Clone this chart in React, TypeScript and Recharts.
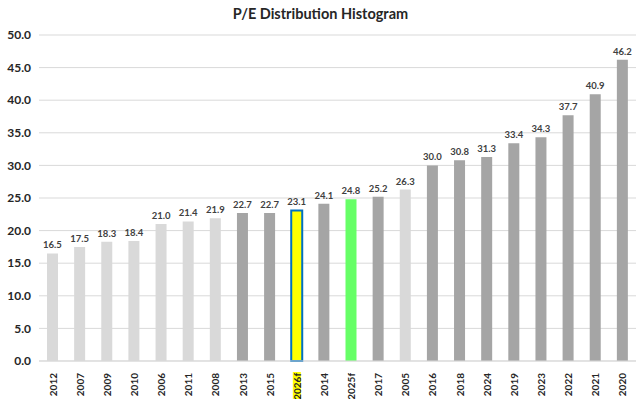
import { BarChart, Bar, XAxis, YAxis, CartesianGrid, Cell, LabelList } from "recharts";

const years = [
  "2012", "2007", "2009", "2010", "2006", "2011", "2008", "2013", "2015", "2026f", "2014",
  "2025f", "2017", "2005", "2016", "2018", "2024", "2019", "2023", "2022", "2021", "2020",
];
const peValues = [
  16.5, 17.5, 18.3, 18.4, 21.0, 21.4, 21.9, 22.7, 22.7, 23.1, 24.1,
  24.8, 25.2, 26.3, 30.0, 30.8, 31.3, 33.4, 34.3, 37.7, 40.9, 46.2,
];
// years shown in the lighter shade
const lightYears = ["2012", "2007", "2009", "2010", "2006", "2011", "2008", "2005"];
const currentYear = "2026f";
const nextYear = "2025f";
const yTicks = [0, 5, 10, 15, 20, 25, 30, 35, 40, 45, 50];

const data = years.map((year, i) => ({ year, pe: peValues[i] }));

const FONT = "Lato, 'Open Sans', sans-serif";

function fillFor(year: string) {
  if (year === currentYear) return "#FFFF00";
  if (year === nextYear) return "#66FF66";
  if (lightYears.includes(year)) return "#D9D9D9";
  return "#A5A5A5";
}

function YearTick(props: any) {
  const { x, y, payload } = props;
  const hl = payload.value === currentYear;
  return (
    <g transform={`translate(${x},${y + 4}) rotate(-90)`}>
      {hl && <rect x={-31} y={-4} width={32} height={8} fill="#FFFF00" />}
      <text
        x={0}
        y={0}
        textAnchor="end"
        dominantBaseline="central"
        fontSize={10}
        fontWeight="bold"
        fontFamily={FONT}
        fill="#262626"
      >
        {payload.value}
      </text>
    </g>
  );
}

export default function App() {
  return (
    <div style={{ position: "fixed", left: 0, top: 0, width: 641, height: 399, background: "#fff" }}>
      <div
        style={{
          position: "absolute",
          top: 5,
          left: 0,
          width: 641,
          textAlign: "center",
          fontFamily: FONT,
          fontWeight: "bold",
          fontSize: 14.5,
          color: "#262626",
        }}
      >
        P/E Distribution Histogram
      </div>
      <BarChart
        width={641}
        height={399}
        data={data}
        margin={{ top: 35, right: 5, left: 0, bottom: 0 }}
        barCategoryGap={0}
      >
        <CartesianGrid vertical={false} stroke="#D9D9D9" />
        <XAxis
          dataKey="year"
          interval={0}
          height={38}
          tickLine={false}
          axisLine={{ stroke: "#D9D9D9" }}
          tick={<YearTick />}
        />
        <YAxis
          width={39}
          domain={[0, 50]}
          ticks={yTicks}
          axisLine={false}
          tickLine={false}
          tickFormatter={(v: number) => v.toFixed(1)}
          tick={{ fontSize: 12, fontWeight: "bold", fontFamily: FONT, fill: "#262626" }}
        />
        <Bar dataKey="pe" barSize={11} isAnimationActive={false}>
          {data.map((d) => (
            <Cell
              key={d.year}
              fill={fillFor(d.year)}
              stroke={d.year === currentYear ? "#0070C0" : "none"}
              strokeWidth={d.year === currentYear ? 2 : 0}
            />
          ))}
          <LabelList
            dataKey="pe"
            position="top"
            offset={5}
            formatter={(v: any) => Number(v).toFixed(1)}
            style={{ fontSize: 9.5, fontWeight: "bold", fontFamily: FONT, fill: "#404040" }}
          />
        </Bar>
      </BarChart>
    </div>
  );
}
